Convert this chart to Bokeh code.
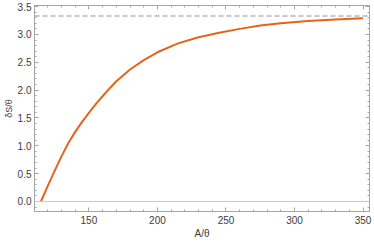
from bokeh.plotting import figure
from bokeh.models import LinearAxis, Range1d, NumeralTickFormatter, SingleIntervalTicker, Span
from bokeh.embed import file_html
from bokeh.resources import INLINE

# data
A_vals = [115, 120, 125, 130, 135, 140, 145, 150, 155, 160, 165, 170, 180, 190, 200, 215, 230, 245, 260, 275, 290, 310, 330, 350]
dS_vals = [0.0, 0.28, 0.55, 0.81, 1.05, 1.25, 1.43, 1.59, 1.75, 1.89, 2.03, 2.16, 2.37, 2.54, 2.68, 2.84, 2.95, 3.03, 3.10, 3.16, 3.20, 3.24, 3.27, 3.29]
asymptote = 3.33

FONT = "Liberation Sans"
FRAME = "#a6a6a6"
TEXT = "#3c3c3c"

p = figure(width=374, height=244, output_backend="svg", toolbar_location=None,
           x_range=Range1d(110.3, 354.7), y_range=Range1d(-0.18, 3.52),
           min_border_left=34, min_border_right=5, min_border_top=5, min_border_bottom=33,
           x_axis_label="A/θ", y_axis_label="δS/θ")
p.styles = {"margin-top": "0px", "margin-left": "0px"}
p.grid.visible = False
p.outline_line_color = FRAME
p.outline_line_width = 1
p.background_fill_color = "white"
p.border_fill_color = "white"

def style_axis(ax, labels=True):
    ax.axis_line_color = FRAME
    ax.major_tick_line_color = FRAME
    ax.minor_tick_line_color = FRAME
    ax.major_tick_in = 4
    ax.major_tick_out = 0
    ax.minor_tick_in = 2
    ax.minor_tick_out = 0
    ax.major_label_text_font = FONT
    ax.major_label_text_font_size = "10px"
    ax.major_label_text_color = TEXT
    ax.axis_label_text_font = FONT
    ax.axis_label_text_font_size = "10px"
    ax.axis_label_text_font_style = "normal"
    ax.axis_label_text_color = TEXT
    if not labels:
        ax.major_label_text_font_size = "0px"
        ax.major_label_text_color = None

p.xaxis.ticker = SingleIntervalTicker(interval=50, num_minor_ticks=5)
p.yaxis.ticker = SingleIntervalTicker(interval=0.5, num_minor_ticks=5)
p.yaxis.formatter = NumeralTickFormatter(format="0.0")
style_axis(p.xaxis[0])
style_axis(p.yaxis[0])
p.xaxis.major_label_standoff = 4
p.yaxis.major_label_standoff = 3
p.xaxis.axis_label_standoff = 1
p.yaxis.axis_label_standoff = 1
p.yaxis.axis_label_text_font_size = "9px"

top = LinearAxis(ticker=SingleIntervalTicker(interval=50, num_minor_ticks=5))
right = LinearAxis(ticker=SingleIntervalTicker(interval=0.5, num_minor_ticks=5))
style_axis(top, labels=False)
style_axis(right, labels=False)
top.major_label_standoff = 0
right.major_label_standoff = 0
p.add_layout(top, "above")
p.add_layout(right, "right")

p.add_layout(Span(location=0, dimension="width", line_color="#c8c8c8", line_width=1))
p.add_layout(Span(location=asymptote, dimension="width", line_color="#b4b4b4",
                  line_width=1.5, line_dash="5 3"))

p.line(A_vals, dS_vals, line_color="#e3641c", line_width=2)

open("out.html", "w").write(file_html(p, INLINE))
